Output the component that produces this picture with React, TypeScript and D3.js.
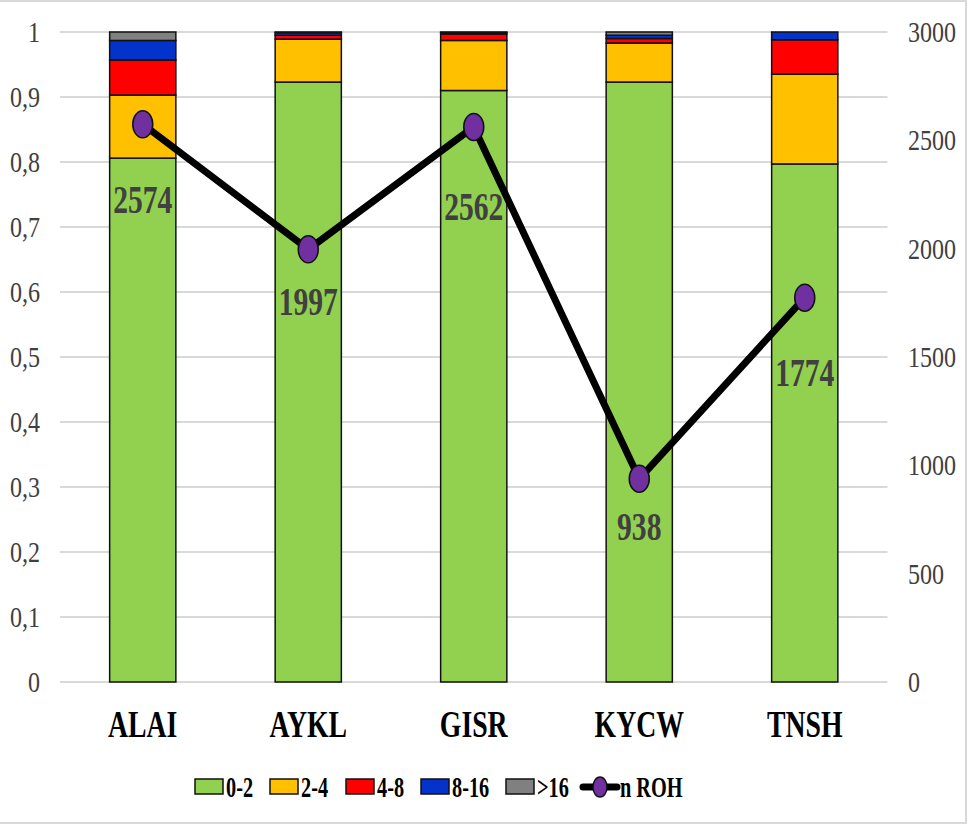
import React from "react";
import * as d3 from "d3";

const categories = ["ALAI", "AYKL", "GISR", "KYCW", "TNSH"];
const seriesNames = ["0-2", "2-4", "4-8", "8-16", ">16"];
const s0_2 = [0.806, 0.923, 0.91, 0.923, 0.797];
const s2_4 = [0.097, 0.066, 0.077, 0.06, 0.138];
const s4_8 = [0.054, 0.006, 0.01, 0.007, 0.053];
const s8_16 = [0.03, 0.004, 0.002, 0.005, 0.012];
const s16 = [0.013, 0.001, 0.001, 0.005, 0.0];
const nROH = [2574, 1997, 2562, 938, 1774];
const leftTicks = [0, 0.1, 0.2, 0.3, 0.4, 0.5, 0.6, 0.7, 0.8, 0.9, 1];
const rightTicks = [0, 500, 1000, 1500, 2000, 2500, 3000];
const lineName = "n ROH";

const colors = ["#92d050", "#ffc000", "#ff0000", "#0433cc", "#808080"];
const labelOffsets = [89, 66, 93, 61, 88];
const legendX = [195, 270, 346, 421, 506, 583];
const FONT = "'Liberation Serif', 'Times New Roman', serif";

const W = 969;
const H = 826;
const left = 60;
const right = 887.5;
const top = 32;
const bottom = 682;

function SText({ x, y, s, anchor, size, weight, fill, children }: any) {
  return (
    <text
      transform={`translate(${x},${y}) scale(${s},1)`}
      textAnchor={anchor}
      fontSize={size}
      fontWeight={weight}
      fill={fill}
      fontFamily={FONT}
    >
      {children}
    </text>
  );
}

export default function App() {
  const x = d3
    .scaleBand<string>()
    .domain(categories)
    .range([left, right])
    .paddingInner(0.6)
    .paddingOuter(0.3);
  const yL = d3.scaleLinear().domain([0, 1]).range([bottom, top]);
  const yR = d3.scaleLinear().domain([0, 3000]).range([bottom, top]);

  const rows = categories.map((c, i) => ({
    cat: c,
    "0-2": s0_2[i],
    "2-4": s2_4[i],
    "4-8": s4_8[i],
    "8-16": s8_16[i],
    ">16": s16[i],
  }));
  const stacked = d3.stack<any>().keys(seriesNames)(rows);

  const cx = (c: string) => (x(c) as number) + x.bandwidth() / 2;
  const line = d3
    .line<number>()
    .x((_, i) => cx(categories[i]))
    .y((d) => yR(d));

  return (
    <svg
      width={W}
      height={H}
      style={{ position: "absolute", left: 0, top: 0, background: "#fff" }}
    >
      <rect x={0} y={0} width={W} height={H} fill="#fff" />
      {/* border */}
      <line x1={0} x2={967} y1={1} y2={1} stroke="#d9d9d9" strokeWidth={2} />
      <line x1={966} x2={966} y1={0} y2={824} stroke="#d9d9d9" strokeWidth={2} />
      <line x1={0} x2={967} y1={823} y2={823} stroke="#d9d9d9" strokeWidth={2} />

      {/* gridlines */}
      {leftTicks.map((t) => (
        <line
          key={t}
          x1={left}
          x2={right}
          y1={yL(t)}
          y2={yL(t)}
          stroke="#d9d9d9"
          strokeWidth={2}
        />
      ))}

      {/* bars */}
      {stacked.map((layer, li) => (
        <g key={layer.key}>
          {layer.map((d, i) => (
            <rect
              key={i}
              x={x(categories[i])}
              width={x.bandwidth()}
              y={yL(d[1])}
              height={Math.max(0, yL(d[0]) - yL(d[1]))}
              fill={colors[li]}
              stroke="#111"
              strokeWidth={d[1] - d[0] > 0 ? 1.5 : 0}
            />
          ))}
        </g>
      ))}

      {/* line */}
      <path d={line(nROH) || ""} fill="none" stroke="#000" strokeWidth={7} strokeLinejoin="round" />
      {nROH.map((v, i) => (
        <ellipse
          key={i}
          cx={cx(categories[i])}
          cy={yR(v)}
          rx={10}
          ry={13.5}
          fill="#7030a0"
          stroke="#111"
          strokeWidth={1.5}
        />
      ))}
      {nROH.map((v, i) => (
        <SText
          key={i}
          x={cx(categories[i])}
          y={yR(v) + labelOffsets[i]}
          s={0.74}
          anchor="middle"
          size={40}
          weight="bold"
          fill="#404040"
        >
          {v}
        </SText>
      ))}

      {/* left axis labels */}
      {leftTicks.map((t) => (
        <SText key={t} x={40} y={yL(t) + 10} s={0.83} anchor="end" size={29} weight="normal" fill="#404040">
          {String(Math.round(t * 10) / 10).replace(".", ",")}
        </SText>
      ))}
      {/* right axis labels */}
      {rightTicks.map((t) => (
        <SText key={t} x={908} y={yR(t) + 10} s={0.83} anchor="start" size={29} weight="normal" fill="#404040">
          {t}
        </SText>
      ))}

      {/* category labels */}
      {categories.map((c) => (
        <SText key={c} x={cx(c)} y={737} s={0.73} anchor="middle" size={38} weight="bold" fill="#000">
          {c}
        </SText>
      ))}

      {/* legend */}
      {seriesNames.map((n, i) => (
        <g key={n}>
          <rect x={legendX[i]} y={779} width={28} height={15} fill={colors[i]} stroke="#111" strokeWidth={1.5} />
          <SText x={legendX[i] + 31} y={797} s={0.7} anchor="start" size={29} weight="bold" fill="#000">
            {n}
          </SText>
        </g>
      ))}
      <g>
        <line x1={legendX[5]} x2={legendX[5] + 34} y1={787} y2={787} stroke="#000" strokeWidth={7} strokeLinecap="round" />
        <ellipse cx={legendX[5] + 17} cy={787} rx={7} ry={10} fill="#7030a0" stroke="#111" strokeWidth={1.5} />
        <SText x={legendX[5] + 37} y={797} s={0.7} anchor="start" size={29} weight="bold" fill="#000">
          {lineName}
        </SText>
      </g>
    </svg>
  );
}
